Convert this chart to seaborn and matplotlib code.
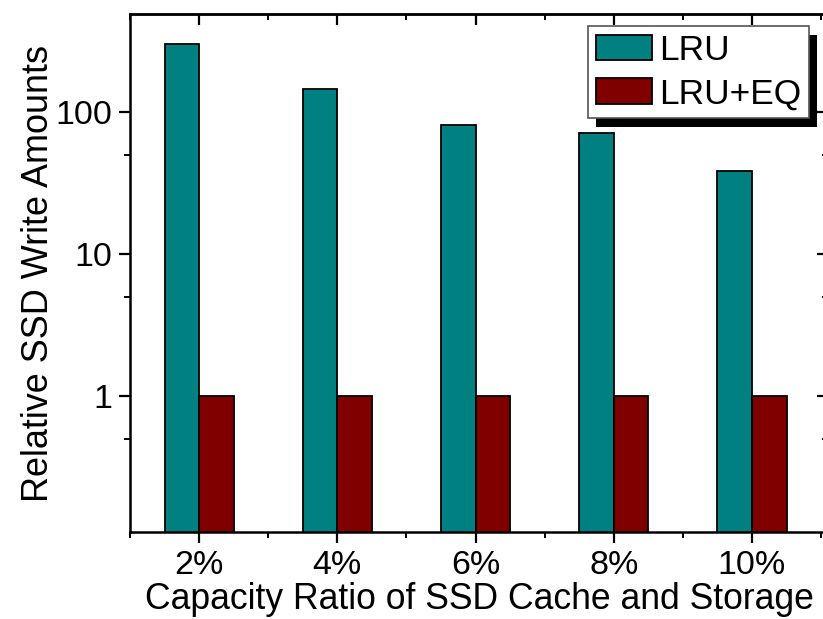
import matplotlib
matplotlib.use("Agg")
import matplotlib.pyplot as plt
import seaborn as sns
import pandas as pd
from matplotlib.ticker import FixedLocator, NullFormatter, FixedFormatter
from matplotlib.patches import Rectangle

categories = ["2%", "4%", "6%", "8%", "10%"]
lru = [301, 145, 81, 71, 38.4]
lru_eq = [1, 1, 1, 1, 1]
series_names = ["LRU", "LRU+EQ"]
colors = ["#008080", "#800000"]

df = pd.DataFrame({
    "ratio": categories * 2,
    "value": lru + lru_eq,
    "method": [series_names[0]] * len(categories) + [series_names[1]] * len(categories),
})

sns.set_style("ticks")
plt.rcParams["font.family"] = ["Liberation Sans", "DejaVu Sans"]
plt.rcParams["text.color"] = "black"
plt.rcParams["axes.labelcolor"] = "black"
plt.rcParams["xtick.color"] = "black"
plt.rcParams["ytick.color"] = "black"

fig = plt.figure(figsize=(8.23, 6.19), dpi=100)
ax = fig.add_axes([130 / 823, 1 - 532 / 619, (828 - 130) / 823, (532 - 14) / 619])
ax.set_yscale("log")

sns.barplot(data=df, x="ratio", y="value", hue="method", palette=colors,
            saturation=1, width=0.5, edgecolor="black", linewidth=1.3, ax=ax,
            order=categories, hue_order=series_names)

ax.set_ylim(0.11, 490)
ax.set_xlim(-0.5, 4.55)

yticks = [1, 10, 100]
yticklabels = ["1", "10", "100"]
yminor = [0.5, 5, 50]
xminor = [-0.5, 0.5, 1.5, 2.5, 3.5, 4.5]

ax.yaxis.set_major_locator(FixedLocator(yticks))
ax.yaxis.set_major_formatter(FixedFormatter(yticklabels))
ax.yaxis.set_minor_locator(FixedLocator(yminor))
ax.yaxis.set_minor_formatter(NullFormatter())
ax.xaxis.set_minor_locator(FixedLocator(xminor))

for s in ax.spines.values():
    s.set_visible(True)
    s.set_linewidth(1.8)
    s.set_color("black")

ax.tick_params(axis="both", which="major", labelsize=24.5, width=1.6, length=8,
               direction="out", pad=5)
ax.tick_params(axis="both", which="minor", width=1.4, length=4, direction="out")

# inward ticks on top and right
secx = ax.secondary_xaxis("top")
secx.xaxis.set_major_locator(FixedLocator(list(range(len(categories)))))
secx.xaxis.set_minor_locator(FixedLocator(xminor))
secx.tick_params(which="major", direction="in", length=8, width=1.6, labeltop=False)
secx.tick_params(which="minor", direction="in", length=4, width=1.4)
secx.spines["top"].set_linewidth(1.8)

secy = ax.secondary_yaxis("right")
secy.yaxis.set_major_locator(FixedLocator(yticks))
secy.yaxis.set_minor_locator(FixedLocator(yminor))
secy.tick_params(which="major", direction="in", length=8, width=1.6, labelright=False)
secy.tick_params(which="minor", direction="in", length=4, width=1.4)
secy.yaxis.set_major_formatter(NullFormatter())
secy.yaxis.set_minor_formatter(NullFormatter())
secy.spines["right"].set_linewidth(1.8)

ax.set_xlabel("Capacity Ratio of SSD Cache and Storage", fontsize=25.6, labelpad=1)
ax.set_ylabel("Relative SSD Write Amounts", fontsize=25.9, labelpad=-1)

leg = ax.legend(loc="upper right", bbox_to_anchor=((809 - 130) / 698, 1 - 12 / 518),
                fontsize=25.4, frameon=True, fancybox=False, shadow=False,
                handlelength=1.6, handleheight=0.75, handletextpad=0.2,
                borderpad=0.22, labelspacing=0.3, borderaxespad=0)
frame = leg.get_frame()
frame.set_facecolor("white")
frame.set_alpha(1)
frame.set_edgecolor("#555555")
frame.set_linewidth(1.2)
leg.set_zorder(6)

fig.canvas.draw()
bb = leg.get_window_extent()
W, H = fig.bbox.width, fig.bbox.height
shadow = Rectangle(((bb.x0 + 8) / W, (bb.y0 - 9) / H), bb.width / W, bb.height / H,
                   transform=fig.transFigure, facecolor="black", edgecolor="none",
                   zorder=5.5, clip_on=False)
ax.add_patch(shadow)

fig.savefig("out.png", dpi=100)
